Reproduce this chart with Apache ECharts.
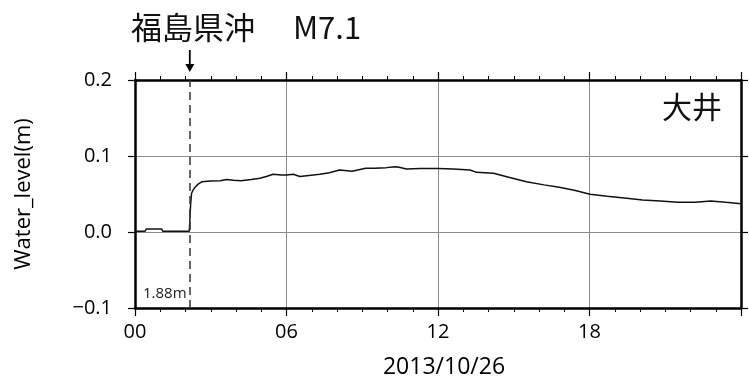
<!DOCTYPE html>
<html>
<head>
<meta charset="utf-8">
<script src="https://cdn.jsdelivr.net/npm/echarts@6/dist/echarts.min.js"></script>
<style>html,body{margin:0;padding:0;background:#fff}#c{width:749px;height:376px}</style>
</head>
<body>
<div id="c"></div>
<script>
// Data (hours since 2013/10/26 00:00, water level in m)
const hours = [0,0.4,0.45,1.05,1.1, 2.15,2.18,2.2,2.24,2.3, 2.38,2.5,2.64,3.0,3.37, 3.63,3.9,4.2,4.6,4.95, 5.2,5.47,5.8,6.0,6.27, 6.53,6.8,7.32,7.7,8.1, 8.6,9.13,9.5,9.96,10.2, 10.35,10.5,10.75,11.3,12.0, 12.6,13.27,13.53,14.2,14.8, 15.5,16.2,16.8,17.4,18.02, 18.7,19.47,20.1,20.8,21.5, 22.2,22.8,23.4,24.0];
const levels = [0.001,0.001,0.004,0.004,0.001, 0.001,0.02,0.035,0.051,0.055, 0.059,0.063,0.066,0.067,0.0675, 0.069,0.068,0.0675,0.069,0.0706, 0.073,0.076,0.075,0.075,0.076, 0.073,0.074,0.076,0.078,0.0816, 0.080,0.084,0.084,0.0847,0.0855, 0.086,0.085,0.083,0.0835,0.0836, 0.083,0.0816,0.0785,0.0772,0.072, 0.066,0.062,0.0588,0.055,0.0496, 0.047,0.0443,0.042,0.0408,0.039, 0.039,0.0408,0.039,0.0373];
const xTickLabels = ['00','06','12','18'];
const eventHour = 2.17;
const eventTitle = '福島県沖\u3000 M7.1';
const stationName = '大井';
const refLevel = '1.88m';
const dateLabel = '2013/10/26';
const yName = 'Water_level(m)';

const FONT = '"Open Sans", "Noto Sans", sans-serif';
const CJK = '"Noto Sans CJK JP", sans-serif';

const chart = echarts.init(document.getElementById('c'), null, {renderer:'canvas'});
const axisLineStyle = {color:'#000', width:2.5};
const option = {
  animation:false,
  backgroundColor:'#fff',
  grid:{left:135, right:8, top:80, bottom:68, containLabel:false, outerBoundsMode:'none'},
  xAxis:[{
    type:'value', min:0, max:24, interval:6, position:'bottom',
    name:dateLabel, nameLocation:'middle', nameGap:48,
    nameTextStyle:{fontFamily:FONT, fontSize:23, color:'#000', padding:[0,0,0,12]},
    axisLine:{show:true, onZero:false, lineStyle:axisLineStyle},
    axisTick:{show:true, inside:false, length:8, lineStyle:{color:'#000', width:1.2}},
    minorTick:{show:true, splitNumber:6, length:4, lineStyle:{color:'#000', width:1}},
    axisLabel:{fontFamily:FONT, fontSize:20, color:'#000', margin:14,
      formatter:v => { const i = Math.round(v/6); return i < xTickLabels.length ? xTickLabels[i] : ''; }},
    splitLine:{show:true, lineStyle:{color:'#8a8a8a', width:1}}
  },{
    type:'value', min:0, max:24, interval:6, position:'top',
    axisLine:{show:true, onZero:false, lineStyle:axisLineStyle},
    axisTick:{show:true, inside:false, length:8, lineStyle:{color:'#000', width:1.2}},
    minorTick:{show:true, splitNumber:6, length:4, lineStyle:{color:'#000', width:1}},
    axisLabel:{show:false}, splitLine:{show:false}
  }],
  yAxis:[{
    type:'value', min:-0.1, max:0.2, interval:0.1, position:'left',
    name:yName, nameLocation:'middle', nameGap:100,
    nameTextStyle:{fontFamily:FONT, fontSize:22, color:'#000'},
    axisLine:{show:true, onZero:false, lineStyle:axisLineStyle},
    axisTick:{show:true, inside:false, length:7, lineStyle:{color:'#000', width:1.2}},
    axisLabel:{fontFamily:FONT, fontSize:20, color:'#000', margin:23,
      formatter:v => { const s = Math.abs(v).toFixed(1); return v < -1e-9 ? '\u2212' + s : s; }},
    splitLine:{show:true, lineStyle:{color:'#8a8a8a', width:1}}
  },{
    type:'value', min:-0.1, max:0.2, interval:0.1, position:'right',
    axisLine:{show:true, onZero:false, lineStyle:axisLineStyle},
    axisTick:{show:true, inside:false, length:7, lineStyle:{color:'#000', width:1.2}},
    axisLabel:{show:false}, splitLine:{show:false}
  }],
  series:[{
    type:'line', xAxisIndex:0, yAxisIndex:0,
    data:hours.map((h,i)=>[h, levels[i]]),
    showSymbol:false, symbol:'none',
    lineStyle:{color:'#111', width:1.5},
    markLine:{
      silent:true, symbol:['none','none'], label:{show:false},
      lineStyle:{color:'#333', width:1.5, type:[8,5]},
      data:[{xAxis:eventHour}]
    },
    z:3
  }]
};
chart.setOption(option);

const ex = chart.convertToPixel({xAxisIndex:0}, eventHour);
const yTop = chart.convertToPixel({yAxisIndex:0}, 0.2);
const yBot = chart.convertToPixel({yAxisIndex:0}, -0.1);
const xLeft = chart.convertToPixel({xAxisIndex:0}, 0);
const xRight = chart.convertToPixel({xAxisIndex:0}, 24);
chart.setOption({
  graphic:[
    {type:'text', left:131, top:12, style:{text:eventTitle, font:'31px ' + CJK, fill:'#111'}},
    {type:'line', shape:{x1:ex, y1:yTop-30, x2:ex, y2:yTop-12}, style:{stroke:'#000', lineWidth:1.8}},
    {type:'polygon', shape:{points:[[ex-4.5, yTop-16],[ex+4.5, yTop-16],[ex, yTop-8]]}, style:{fill:'#000'}},
    {type:'text', x:xRight-19, y:yTop+12, style:{text:stationName, font:'30px ' + CJK, fill:'#111', align:'right', verticalAlign:'top'}},
    {type:'text', x:xLeft+8, y:yBot-14, style:{text:refLevel, font:'15px ' + FONT, fill:'#222', align:'left', verticalAlign:'middle'}}
  ]
});
</script>
</body>
</html>
